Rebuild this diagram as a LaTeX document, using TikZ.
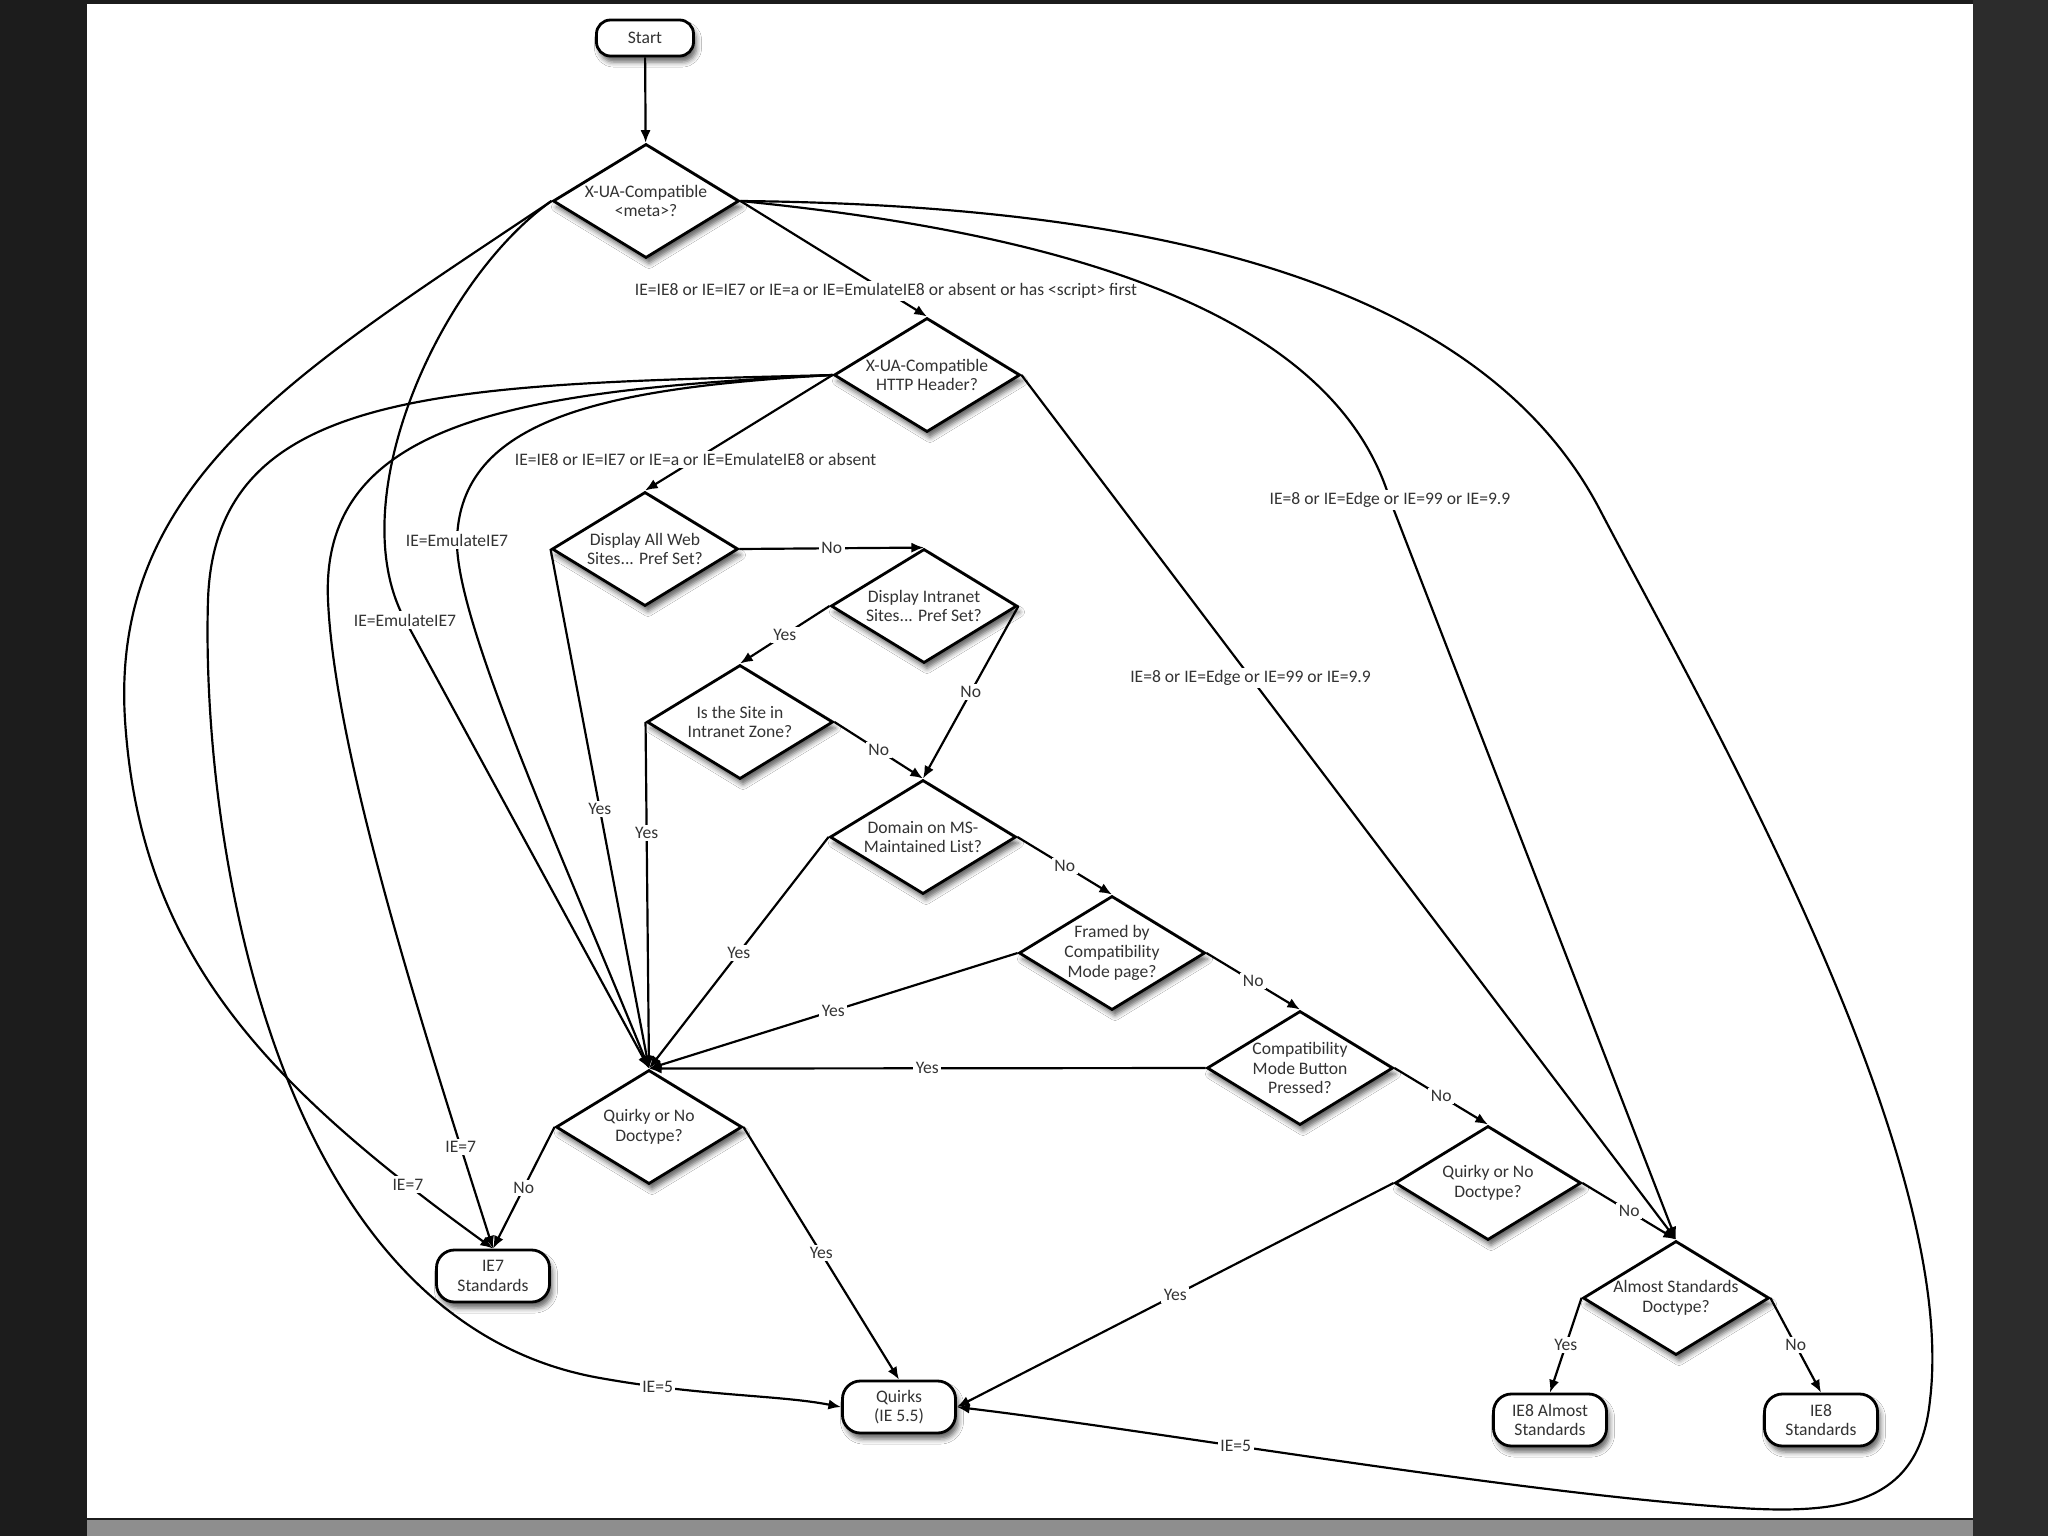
\documentclass[tikz,border=0pt]{standalone}
\usepackage{fontspec}
\setmainfont{Carlito}
\usetikzlibrary{shapes.geometric,arrows.meta,shadows.blur}
\definecolor{frameleft}{HTML}{1C1C1C}
\definecolor{frameright}{HTML}{2C2C2C}
\definecolor{band}{HTML}{8E8E8E}
\definecolor{ink}{HTML}{333333}

\begin{document}
\begin{tikzpicture}[x=0.01cm,y=-0.01cm,
    font=\fontsize{5}{5.6}\selectfont,
    shade/.style={blur shadow={shadow xshift=0.3mm,shadow yshift=-0.6mm,shadow blur radius=0.5mm,shadow opacity=60}},
    dia/.style={diamond,draw,line width=0.8pt,fill=white,text=ink,align=center,
      minimum width=18.6mm,minimum height=11.4mm,aspect=1.62,inner xsep=-2mm,inner ysep=0pt,shade},
    term/.style={rectangle,rounded corners=1.8mm,draw,line width=0.8pt,fill=white,text=ink,align=center,
      minimum width=11.3mm,minimum height=5.2mm,inner sep=0pt,shade},
    lbl/.style={fill=white,text=ink,inner sep=0.7pt},
    flow/.style={line width=0.62pt,-{Latex[length=3.6pt,width=2.9pt]}}]
  \fill[frameleft] (0,0) rectangle (2048,1536);
  \fill[frameright] (1973,0) rectangle (2048,1536);
  \fill[white] (87,4) rectangle (1973,1518);
  \fill[band] (87,1520) rectangle (1973,1536);
  \useasboundingbox (0,0) rectangle (2048,1536);

  \node[term,minimum width=9.7mm,minimum height=3.6mm,rounded corners=1.4mm] (start) at (645,38) {Start};
  \node[dia] (meta) at (646,201) {X-UA-Compatible\\<meta>?};
  \node[dia] (http) at (927,375) {X-UA-Compatible\\HTTP Header?};
  \node[dia] (allweb) at (645,549) {Display All Web\\Sites... Pref Set?};
  \node[dia] (intranet) at (924,606) {Display Intranet\\Sites... Pref Set?};
  \node[dia] (zone) at (740,722) {Is the Site in\\Intranet Zone?};
  \node[dia] (mslist) at (923,837) {Domain on MS-\\Maintained List?};
  \node[dia] (framed) at (1112,953) {Framed by\\Compatibility\\Mode page?};
  \node[dia] (button) at (1300,1068) {Compatibility\\Mode Button\\Pressed?};
  \node[dia] (quirkyA) at (649,1127) {Quirky or No\\Doctype?};
  \node[dia] (quirkyB) at (1488,1183) {Quirky or No\\Doctype?};
  \node[dia] (almost) at (1676,1298) {Almost Standards\\Doctype?};
  \node[term] (ieseven) at (493,1276) {IE7\\Standards};
  \node[term] (quirks) at (899,1407) {Quirks\\(IE 5.5)};
  \node[term] (ieeightalmost) at (1550,1420) {IE8 Almost\\Standards};
  \node[term] (ieeight) at (1821,1420) {IE8\\Standards};

  \draw[flow] (start) -- (meta);
  \draw[flow] (meta.east) -- node[lbl,pos=0.78]{IE=IE8 or IE=IE7 or IE=a or IE=EmulateIE8 or absent or has <script> first} (http.north);
  \draw[flow] (http.west) -- node[lbl,pos=0.73]{IE=IE8 or IE=IE7 or IE=a or IE=EmulateIE8 or absent} (allweb.north);
  \draw[flow] (http.east) -- node[lbl,pos=0.35]{IE=8 or IE=Edge or IE=99 or IE=9.9} (almost.north);
  \draw[flow] (meta.east) .. controls (1030,230) and (1330,300) .. (1390,500)
    node[lbl]{IE=8 or IE=Edge or IE=99 or IE=9.9} -- (almost.north);
  \draw[flow] (meta.east) .. controls (1150,205) and (1480,280) .. (1600,510)
    .. controls (1696,694) and (1960,1150) .. (1930,1400)
    .. controls (1920,1500) and (1850,1515) .. (1740,1508)
    .. controls (1520,1494) and (1150,1430) .. node[lbl,pos=0.62]{IE=5} (quirks.east);
  \draw[flow] (meta.west) .. controls (300,370) and (110,480) .. (125,720)
    .. controls (140,950) and (260,1080) .. node[lbl,pos=0.87]{IE=7} (ieseven.north);
  \draw[flow] (meta.west) .. controls (440,280) and (340,500) .. (405,620)
    node[lbl]{IE=EmulateIE7} -- (quirkyA.north);
  \draw[flow] (http.west) .. controls (450,385) and (215,385) .. (208,600)
    .. controls (201,830) and (270,1320) .. (600,1378)
    .. controls (700,1396) and (780,1395) .. node[lbl,pos=0.2]{IE=5} (quirks.west);
  \draw[flow] (http.west) .. controls (520,390) and (320,420) .. (328,600)
    .. controls (335,760) and (430,1050) .. node[lbl,pos=0.84]{IE=7} (ieseven.north);
  \draw[flow] (http.west) .. controls (600,388) and (460,420) .. (457,540)
    node[lbl]{IE=EmulateIE7} .. controls (455,620) and (560,850) .. (quirkyA.north);

  \draw[flow] (zone.west) -- node[lbl,pos=0.32]{Yes} (quirkyA.north);
  \foreach \a/\b/\t in {allweb.east/intranet.north/No, allweb.west/quirkyA.north/Yes,
      intranet.west/zone.north/Yes, intranet.east/mslist.north/No, zone.east/mslist.north/No,
      mslist.west/quirkyA.north/Yes, mslist.east/framed.north/No,
      framed.west/quirkyA.north/Yes, framed.east/button.north/No,
      button.west/quirkyA.north/Yes, button.east/quirkyB.north/No,
      quirkyA.west/ieseven.north/No, quirkyA.east/quirks.north/Yes,
      quirkyB.west/quirks.east/Yes, quirkyB.east/almost.north/No,
      almost.west/ieeightalmost.north/Yes, almost.east/ieeight.north/No}
    \draw[flow] (\a) -- node[lbl]{\t} (\b);
\end{tikzpicture}
\end{document}
